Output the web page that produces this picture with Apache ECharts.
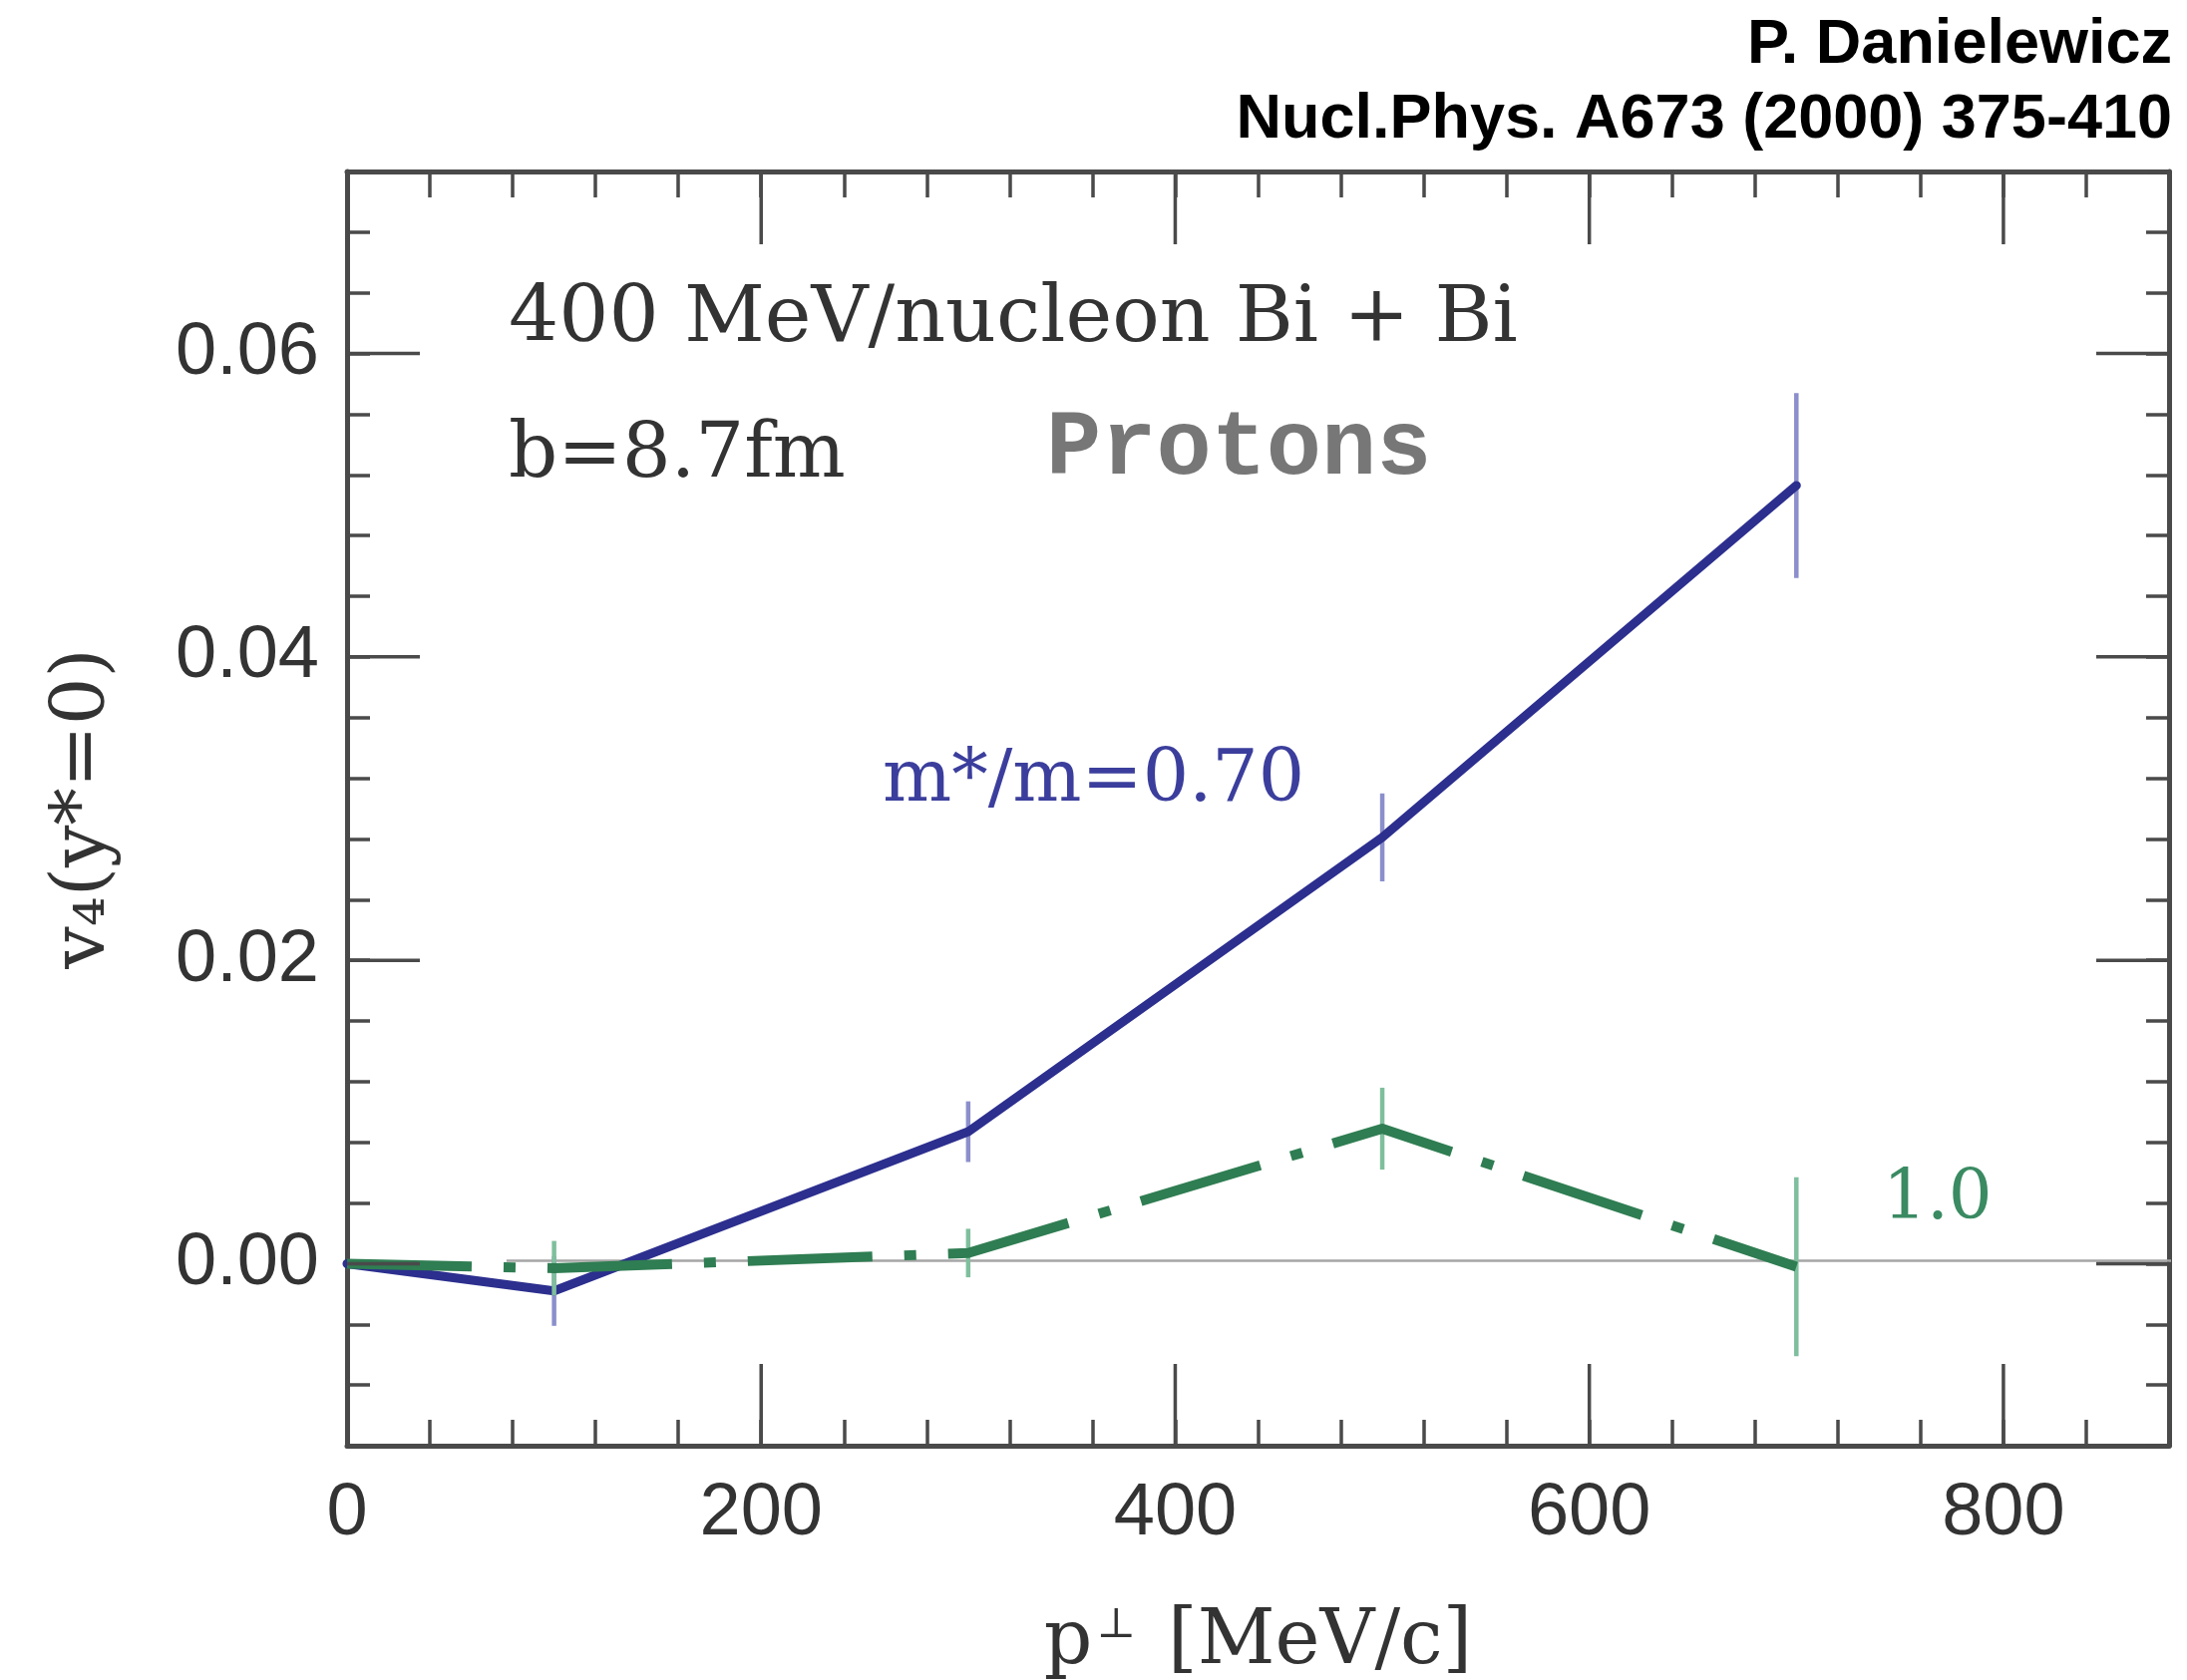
<!DOCTYPE html>
<html><head><meta charset="utf-8">
<script src="https://cdn.jsdelivr.net/npm/echarts@6/dist/echarts.min.js"></script>
<style>html,body{margin:0;padding:0;background:#fff}#c{width:2193px;height:1685px}</style>
</head><body><div id="c"></div>
<script>
// ---- data ----
const pT = [0, 100, 300, 500, 700];                       // p_perp [MeV/c]
const v4Eff070 = [0.0, -0.0018, 0.0087, 0.0281, 0.0513];  // m*/m = 0.70
const err070   = [null, 0.0023, 0.0020, 0.0029, 0.0061];
const v4Eff100 = [0.0, -0.0003, 0.0007, 0.0089, -0.0002]; // m*/m = 1.0
const err100   = [null, 0.0018, 0.0016, 0.0027, 0.0059];
const xMajorTicks = [0, 200, 400, 600, 800];
const yMajorTicks = [0.00, 0.02, 0.04, 0.06];
const refLineX = [77, 888];
const refLineY = 0.0002;

// ---- axis setup ----
const X_MIN = 0, X_MAX = 880, X_MINOR = 40;
const Y_MIN = -0.012, Y_MAX = 0.072, Y_MINOR = 0.004;
const FRAME = '#4a4a4a';
const BLUE = '#2c2f8e', BLUE_ERR = '#8b8fcb';
const GREEN = '#2f7d52', GREEN_ERR = '#7fbf9d';
const SERIF = '"DejaVu Serif", "Liberation Serif", serif';
const SANS = '"Liberation Sans", Arial, sans-serif';

function isMajor(v, list) { return list.some(m => Math.abs(m - v) < 1e-9); }

const chart = echarts.init(document.getElementById('c'), null, {renderer: 'canvas'});

function errData(xs, ys, es) {
  const out = [];
  xs.forEach((x, i) => { if (es[i] != null) out.push([x, ys[i], es[i]]); });
  return out;
}
function errRender(color) {
  return function (params, api) {
    const x = api.value(0), y = api.value(1), e = api.value(2);
    const lo = api.coord([x, y - e]), hi = api.coord([x, y + e]);
    return {type: 'line', shape: {x1: lo[0], y1: lo[1], x2: hi[0], y2: hi[1]},
            style: {stroke: color, lineWidth: 4.5}};
  };
}

const commonX = {
  type: 'value', min: X_MIN, max: X_MAX, interval: X_MINOR,
  axisLine: {show: true, onZero: false, lineStyle: {color: FRAME, width: 5}},
  axisTick: {show: true, inside: true, length: 26, lineStyle: {color: FRAME, width: 3.5}},
  splitLine: {show: false}
};
const commonY = {
  type: 'value', min: Y_MIN, max: Y_MAX, interval: Y_MINOR,
  axisLine: {show: true, onZero: false, lineStyle: {color: FRAME, width: 5}},
  axisTick: {show: true, inside: true, length: 23, lineStyle: {color: FRAME, width: 3.5}},
  splitLine: {show: false}
};

const option = {
  backgroundColor: '#ffffff',
  animation: false,
  grid: {left: 348, right: 18, top: 172, bottom: 235, containLabel: false, outerBoundsMode: 'none'},
  xAxis: [
    Object.assign({}, commonX, {
      position: 'bottom',
      axisLabel: {show: true, margin: 32, color: '#333', fontSize: 74, fontFamily: SANS,
        formatter: v => isMajor(v, xMajorTicks) ? String(Math.round(v)) : ''},
      name: '{a|p}{s|⊥}{a| [MeV/c]}', nameLocation: 'middle', nameGap: 160,
      nameTextStyle: {rich: {
        a: {fontFamily: SERIF, fontSize: 76, color: '#333'},
        s: {fontFamily: SERIF, fontSize: 42, color: '#333', verticalAlign: 'top', padding: [0, 8, 32, 4]}
      }}
    }),
    Object.assign({}, commonX, {position: 'top', axisLabel: {show: false}})
  ],
  yAxis: [
    Object.assign({}, commonY, {
      position: 'left',
      axisLabel: {show: true, margin: 28, color: '#333', fontSize: 74, fontFamily: SANS,
        formatter: v => isMajor(v, yMajorTicks) ? v.toFixed(2) : ''},
      name: 'v₄(y*=0)', nameLocation: 'middle', nameGap: 226, nameRotate: 90,
      nameTextStyle: {fontFamily: SERIF, fontSize: 75, color: '#333'}
    }),
    Object.assign({}, commonY, {position: 'right', axisLabel: {show: false}})
  ],
  graphic: [
    {type: 'text', right: 15, top: 14, style: {text: 'P. Danielewicz', font: 'bold 63px "Liberation Sans"', fill: '#000'}},
    {type: 'text', right: 15, top: 89, style: {text: 'Nucl.Phys. A673 (2000) 375-410', font: 'bold 63px "Liberation Sans"', fill: '#000'}},
    {type: 'text', left: 510, top: 282, style: {text: '400 MeV/nucleon Bi + Bi', font: '79px ' + SERIF, fill: '#333'}},
    {type: 'text', left: 510, top: 419, style: {text: 'b=8.7fm', font: '77px ' + SERIF, fill: '#333'}},
    {type: 'text', left: 1049, top: 406, style: {text: 'Protons', font: 'bold 92px "Liberation Mono"', fill: '#777'}},
    {type: 'text', left: 885, top: 748, style: {text: 'm*/m=0.70', font: '73px ' + SERIF, fill: '#3b3e9c'}},
    {type: 'text', left: 1888, top: 1170, style: {text: '1.0', font: '69px ' + SERIF, fill: '#3a8a62'}}
  ],
  series: [
    {
      name: 'ref', type: 'line', xAxisIndex: 0, yAxisIndex: 0, clip: false, silent: true,
      data: refLineX.map(x => [x, refLineY]), symbol: 'none',
      lineStyle: {color: '#a6a6a6', width: 2.5}, z: 1
    },
    {
      name: 'm*/m=0.70', type: 'line', xAxisIndex: 0, yAxisIndex: 0,
      data: pT.map((x, i) => [x, v4Eff070[i]]), symbol: 'none',
      lineStyle: {color: BLUE, width: 9, cap: 'round', join: 'round'}, z: 3
    },
    {
      name: 'err070', type: 'custom', xAxisIndex: 0, yAxisIndex: 0,
      data: errData(pT, v4Eff070, err070), renderItem: errRender(BLUE_ERR), z: 2
    },
    {
      name: 'm*/m=1.0', type: 'line', xAxisIndex: 0, yAxisIndex: 0,
      data: pT.map((x, i) => [x, v4Eff100[i]]), symbol: 'none',
      lineStyle: {color: GREEN, width: 10, type: [125, 32, 12, 32], cap: 'butt', join: 'round'}, z: 5
    },
    {
      name: 'err100', type: 'custom', xAxisIndex: 0, yAxisIndex: 0,
      data: errData(pT, v4Eff100, err100), renderItem: errRender(GREEN_ERR), z: 4
    },
    {
      name: 'xMajor', type: 'custom', xAxisIndex: 0, yAxisIndex: 0, silent: true, clip: false,
      data: xMajorTicks.map(v => [v, Y_MIN]),
      renderItem: function (params, api) {
        const v = api.value(0);
        const b = api.coord([v, Y_MIN]), t = api.coord([v, Y_MAX]);
        return {type: 'group', children: [
          {type: 'line', shape: {x1: b[0], y1: b[1], x2: b[0], y2: b[1] - 82}, style: {stroke: FRAME, lineWidth: 3.5}},
          {type: 'line', shape: {x1: t[0], y1: t[1], x2: t[0], y2: t[1] + 73}, style: {stroke: FRAME, lineWidth: 3.5}}
        ]};
      }, z: 6
    },
    {
      name: 'yMajor', type: 'custom', xAxisIndex: 0, yAxisIndex: 0, silent: true, clip: false,
      data: yMajorTicks.map(v => [X_MIN, v]),
      renderItem: function (params, api) {
        const v = api.value(1);
        const l = api.coord([X_MIN, v]), r = api.coord([X_MAX, v]);
        return {type: 'group', children: [
          {type: 'line', shape: {x1: l[0], y1: l[1], x2: l[0] + 73, y2: l[1]}, style: {stroke: FRAME, lineWidth: 3.5}},
          {type: 'line', shape: {x1: r[0], y1: r[1], x2: r[0] - 73, y2: r[1]}, style: {stroke: FRAME, lineWidth: 3.5}}
        ]};
      }, z: 6
    }
  ]
};
chart.setOption(option);
</script>
</body></html>
